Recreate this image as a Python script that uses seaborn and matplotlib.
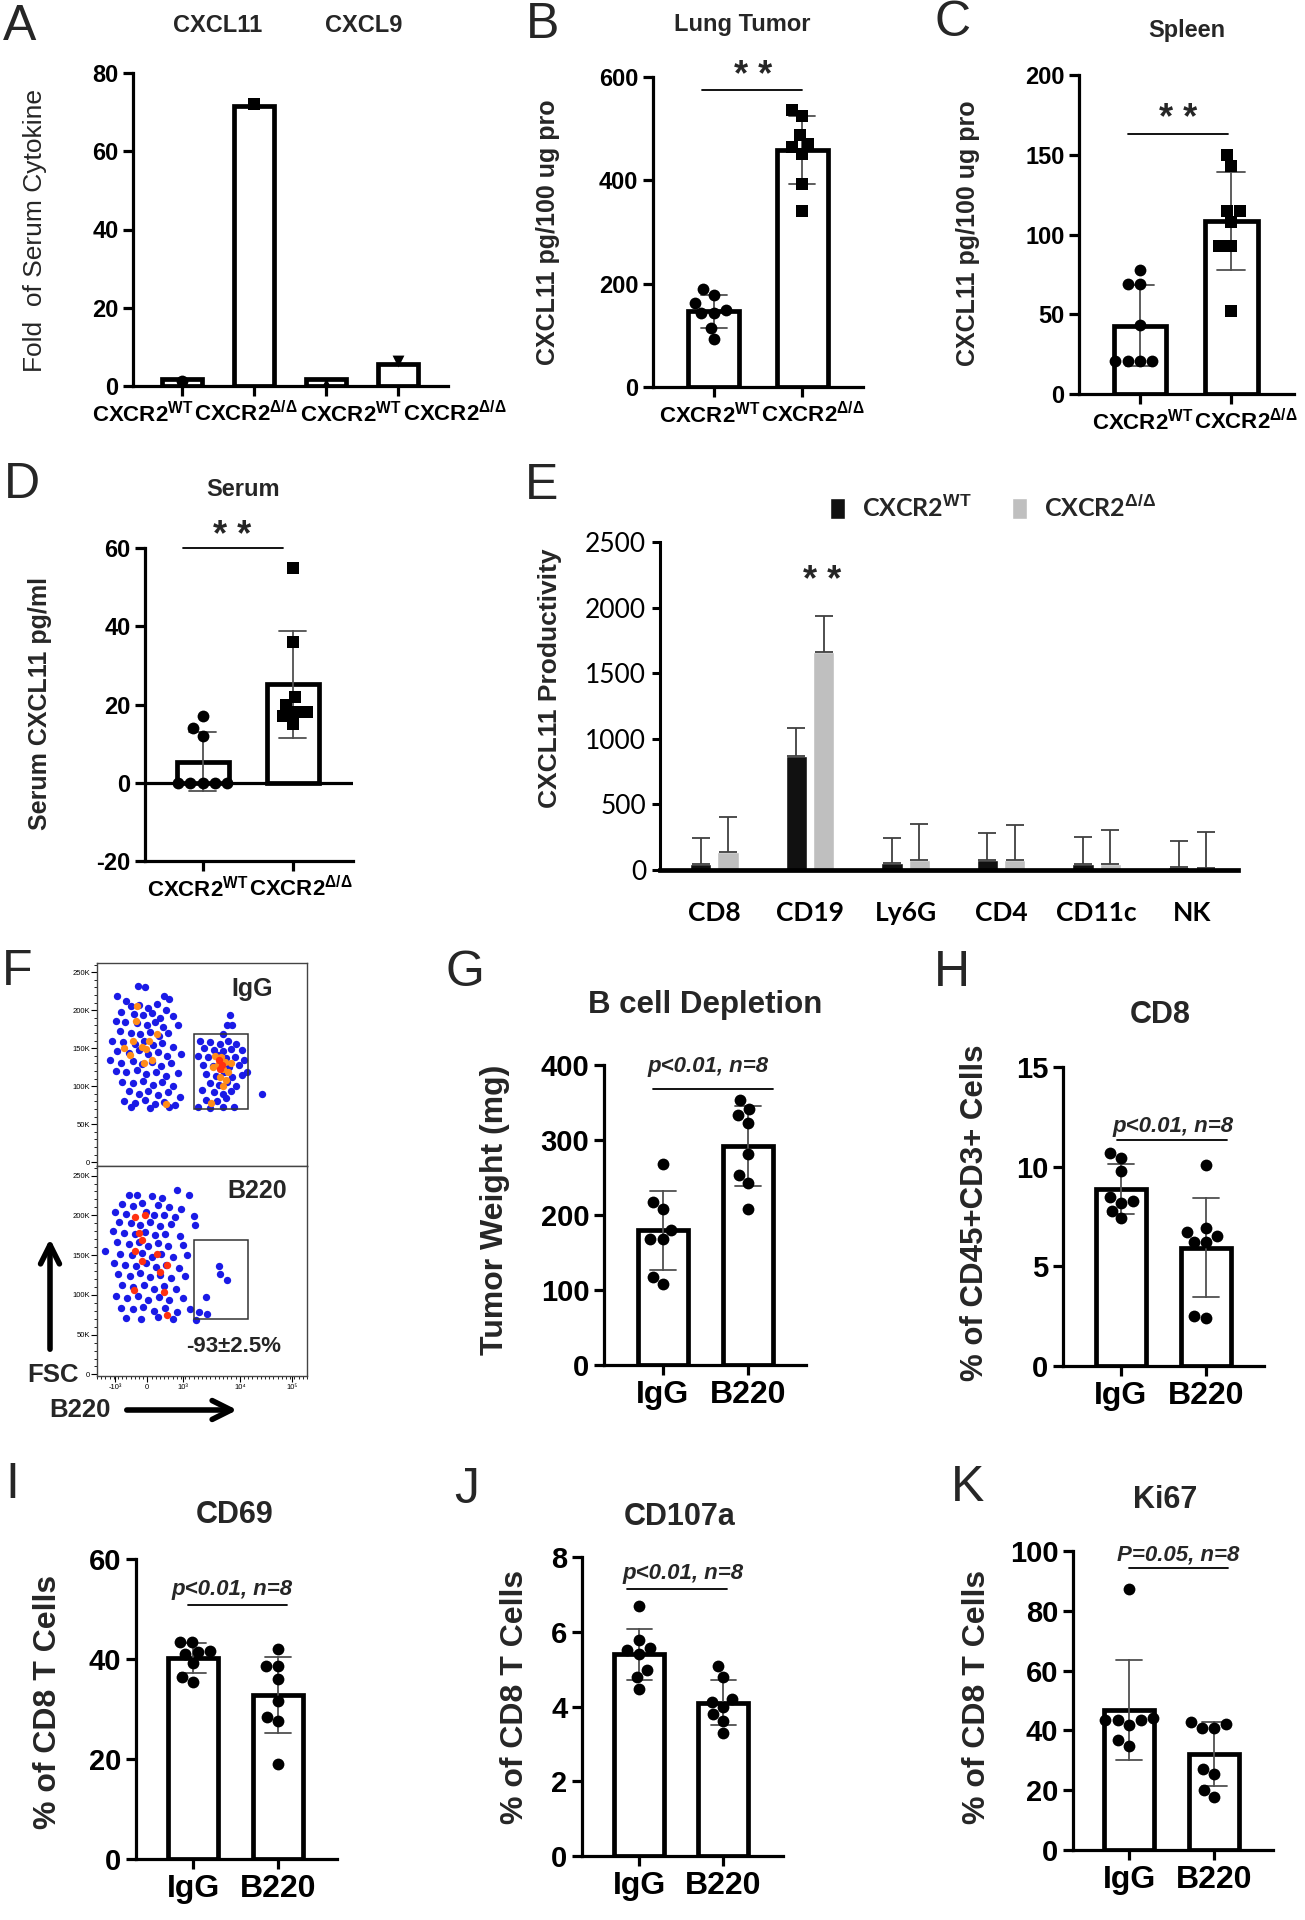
import matplotlib
matplotlib.use('Agg')
import matplotlib.pyplot as plt
from matplotlib.patches import Rectangle, FancyArrowPatch
from matplotlib.ticker import MultipleLocator
from matplotlib.transforms import ScaledTranslation
import numpy as np
import pandas as pd
import seaborn as sns

W, H = 1305, 1920

WT = r'CXCR2$^{\mathrm{WT}}$'
KO = r'CXCR2$^{\mathrm{Δ/Δ}}$'

# ---- panel A: fold of serum cytokine (n=1 per bar)
a_groups = ['CXCL11 WT', 'CXCL11 KO', 'CXCL9 WT', 'CXCL9 KO']
a_labels = [WT, KO, WT, KO]
a_bars = [1.7, 71.5, 1.7, 5.7]
a_points = [1.2, 72.0, 0.6, 6.4]
a_markers = ['o', 's', '^', 'v']

# ---- panels B-D: CXCL11 per mouse
b_wt = [190, 178, 150, 144, 144, 163, 114, 92]
b_ko = [537, 524, 488, 471, 465, 451, 393, 340]
c_wt = [78, 69, 69, 43, 21, 21, 21, 21]
c_ko = [150, 143, 115, 115, 108, 93, 93, 52]
d_wt = [17, 12, 14, 0, 0, 0, 0, 0]
d_ko = [55, 36, 20, 17, 18, 18, 22, 15]

# ---- panel E: CXCL11 productivity by cell type
e_cells = ['CD8', 'CD19', 'Ly6G', 'CD4', 'CD11c', 'NK']
e_wt = [43, 872, 51, 76, 43, 25]
e_ko = [140, 1661, 76, 76, 43, 13]
e_wt_err = [199, 209, 196, 209, 206, 199]
e_ko_err = [267, 272, 272, 267, 262, 279]

# ---- panel F: flow plots (x = B220 channel, y = FSC in K)
f_xtick_pos = [87, 238, 409, 683, 929]
f_xtick_lab = ['-10³', '0', '10³', '10⁴', '10⁵']
f_gate = (463, 69.5, 254, 99.5)
f_igg_blue = [(195, 232), (228, 231), (95, 219), (140, 212), (320, 218), (345, 215), (160, 205), (200, 207),
              (245, 203), (285, 208), (330, 200), (115, 197), (175, 195), (220, 193), (262, 196), (300, 190),
              (360, 192), (90, 186), (135, 184), (190, 183), (240, 181), (275, 184), (315, 178), (385, 180),
              (110, 172), (160, 170), (205, 168), (250, 171), (295, 166), (340, 170), (70, 160), (125, 158),
              (180, 155), (225, 159), (265, 154), (310, 157), (360, 152), (95, 146), (150, 144), (200, 147),
              (245, 142), (290, 145), (335, 140), (400, 142), (60, 135), (115, 131), (170, 133), (215, 129),
              (260, 132), (305, 127), (350, 130), (90, 120), (140, 118), (190, 121), (235, 116), (280, 119),
              (330, 114), (385, 117), (120, 106), (170, 104), (220, 107), (265, 102), (310, 105), (360, 100),
              (150, 93), (200, 90), (245, 94), (290, 88), (340, 92), (395, 86), (130, 80), (180, 78),
              (230, 82), (275, 76), (320, 79), (370, 75), (160, 72), (250, 71), (345, 73),
              (635, 194), (619, 180), (643, 180), (600, 168), (490, 160), (540, 158), (585, 156), (625, 160),
              (660, 155), (510, 150), (555, 148), (600, 146), (640, 149), (690, 147), (480, 140), (530, 138),
              (575, 141), (615, 137), (655, 139), (700, 135), (505, 128), (550, 126), (590, 130), (630, 125),
              (675, 128), (714, 118), (520, 116), (565, 114), (605, 118), (645, 112), (690, 115), (540, 104),
              (580, 102), (620, 106), (660, 100), (500, 95), (555, 92), (600, 90), (640, 94), (520, 82),
              (570, 80), (615, 84), (480, 72), (540, 71), (600, 72), (650, 73), (786, 90)]
f_igg_orange = [(190, 205), (187, 186), (286, 169), (246, 159), (127, 150), (214, 152), (159, 141), (262, 135),
                (222, 130), (330, 77), (232, 149), (170, 160), (560, 140), (590, 138), (610, 132), (575, 128),
                (600, 122), (625, 118), (585, 112), (615, 108), (550, 125), (640, 130), (600, 100), (545, 78)]
f_igg_red = [(579, 134), (587, 123), (596, 128)]
f_b220_blue = [(380, 232), (150, 226), (190, 225), (260, 224), (310, 222), (437, 225), (120, 214), (170, 212),
               (215, 216), (290, 213), (345, 210), (400, 208), (85, 204), (140, 202), (235, 204), (270, 200),
               (320, 201), (370, 198), (460, 199), (105, 192), (160, 190), (205, 188), (250, 192), (300, 187),
               (350, 189), (468, 188), (75, 180), (130, 178), (180, 176), (230, 179), (275, 175), (325, 177),
               (395, 174), (95, 166), (150, 164), (200, 167), (245, 162), (290, 165), (340, 161), (410, 163),
               (40, 155), (110, 152), (165, 150), (215, 153), (260, 148), (305, 151), (360, 147), (430, 150),
               (80, 140), (135, 138), (185, 136), (235, 140), (280, 135), (330, 138), (390, 134), (100, 126),
               (155, 124), (205, 127), (250, 122), (300, 125), (350, 121), (420, 124), (120, 112), (170, 110),
               (225, 113), (270, 108), (320, 111), (375, 107), (90, 98), (145, 96), (195, 99), (245, 94),
               (295, 97), (345, 93), (410, 96), (115, 84), (170, 82), (220, 85), (270, 80), (325, 83),
               (380, 79), (445, 82), (140, 71), (210, 70), (290, 72), (360, 70), (470, 68),
               (579, 136), (587, 126), (619, 119), (521, 97), (524, 76), (484, 79)]
f_b220_red = [(183, 198), (230, 200), (198, 178), (214, 169), (183, 155), (214, 142), (286, 151), (333, 138),
              (302, 129), (175, 106), (317, 104), (333, 75)]

# ---- panels G-K: B cell depletion
g_igg = [268, 218, 208, 180, 168, 168, 118, 108]
g_b220 = [342, 353, 333, 323, 282, 254, 243, 208]
h_igg = [10.7, 10.45, 9.8, 8.3, 8.5, 8.2, 7.8, 7.4]
h_b220 = [10.1, 6.9, 6.5, 6.7, 6.2, 6.2, 2.4, 2.5]
i_igg = [41.7, 43.5, 43.5, 41.4, 41.0, 39.2, 35.5, 36.5]
i_b220 = [42.0, 38.7, 38.7, 36.0, 31.6, 28.5, 27.7, 19.0]
j_igg = [6.68, 5.57, 5.78, 5.4, 5.5, 4.97, 4.79, 4.48]
j_b220 = [5.08, 4.79, 3.99, 4.11, 4.21, 3.79, 3.6, 3.28]
k_igg = [87.4, 43.4, 43.4, 43.4, 44.0, 41.8, 36.9, 34.9]
k_b220 = [42.0, 40.9, 40.9, 42.9, 27.1, 25.3, 17.8, 20.0]
pb_labels = ['IgG', 'B220']

sns.set_theme(style='ticks')
plt.rcParams['font.family'] = ['Liberation Sans', 'DejaVu Sans']
plt.rcParams['font.weight'] = 'bold'
plt.rcParams['mathtext.fontset'] = 'custom'
plt.rcParams['mathtext.rm'] = 'Liberation Sans:bold'
plt.rcParams['mathtext.it'] = 'Liberation Sans:bold:italic'
plt.rcParams['mathtext.bf'] = 'Liberation Sans:bold'
plt.rcParams['axes.unicode_minus'] = False
plt.rcParams['axes.linewidth'] = 2.3
plt.rcParams['axes.edgecolor'] = 'black'
plt.rcParams['xtick.color'] = 'black'
plt.rcParams['ytick.color'] = 'black'

fig = plt.figure(figsize=(W / 100, H / 100), dpi=100)


def px_axes(l, t, r, b):
    return fig.add_axes([l / W, 1 - b / H, (r - l) / W, (b - t) / H])


def ftext(x, y, s, **kw):
    fig.text(x / W, 1 - y / H, s, ha='center', va='center', **kw)


def shift_labels(ax, dxs):
    for lab, dx in zip(ax.get_xticklabels(), dxs):
        lab.set_transform(lab.get_transform() + ScaledTranslation(dx / 100, 0, fig.dpi_scale_trans))


def prism(ax, groups, samples, markers, xlabels, ylim, step, xlim, tick_fs, xlab_fs, width=0.58):
    df = pd.DataFrame({'group': [g for g, s in zip(groups, samples) for _ in s],
                       'value': [v for s in samples for v in s]})
    sns.barplot(data=df, x='group', y='value', order=groups, errorbar='sd', capsize=0.3, width=width,
                color='white', saturation=1, edgecolor='black', linewidth=3.4,
                err_kws={'color': '#505050', 'linewidth': 1.3}, ax=ax)
    for g, m in zip(groups, markers):
        sns.swarmplot(data=df[df.group == g], x='group', y='value', order=groups, marker=m,
                      color='black', size=8.5, zorder=4, ax=ax)
    style(ax, xlabels, ylim, step, xlim, tick_fs, xlab_fs)


def style(ax, xlabels, ylim, step, xlim, tick_fs, xlab_fs):
    ax.set_xlim(xlim)
    ax.set_ylim(ylim)
    ax.set_yticks(np.arange(ylim[0], ylim[1] + step / 2, step))
    ax.set_xticks(range(len(xlabels)))
    ax.set_xticklabels(xlabels)
    ax.set_xlabel('')
    ax.set_ylabel('')
    sns.despine(ax=ax)
    ax.tick_params(width=2.3, length=7.5, direction='out')
    ax.tick_params(axis='y', labelsize=tick_fs, pad=3)
    ax.tick_params(axis='x', labelsize=xlab_fs, pad=3)


def sig(ax, x0, x1, y, ty, tx, text, fs, **kw):
    ax.plot([x0, x1], [y, y], color='black', lw=1.3, clip_on=False)
    ax.text(tx, ty, text, ha='center', va='center', fontsize=fs, clip_on=False, **kw)


# ---------------- A
ax = px_axes(133, 73, 448, 386)
dfa = pd.DataFrame({'group': a_groups, 'bar': a_bars, 'point': a_points})
sns.barplot(data=dfa, x='group', y='bar', order=a_groups, errorbar=None, width=0.56, color='white',
            saturation=1, edgecolor='black', linewidth=3.4, ax=ax)
for g, m in zip(a_groups, a_markers):
    sns.stripplot(data=dfa[dfa.group == g], x='group', y='point', order=a_groups, marker=m, jitter=False,
                  color='black', size=8.5, zorder=4, ax=ax)
style(ax, a_labels, (0, 80), 20, (-0.68, 3.69), 17, 16)
shift_labels(ax, [-39, -8, 25, 57])
ftext(218, 25, 'CXCL11', fontsize=17)
ftext(364, 25, 'CXCL9', fontsize=17)
ftext(35, 230, 'Fold  of Serum Cytokine', rotation=90, fontsize=19, fontweight='normal')
ftext(20, 27, 'A', fontsize=36, fontweight='normal')

# ---------------- B
ax = px_axes(653, 77, 863, 387)
prism(ax, ['WT', 'KO'], [b_wt, b_ko], ['o', 's'], [WT, KO], (0, 600), 200, (-0.69, 1.69), 17, 16)
shift_labels(ax, [-4, 11])
sig(ax, -0.13, 1.0, 574, 600, 0.44, '* *', 26)
ftext(742, 25, 'Lung Tumor', fontsize=17)
ftext(548, 232, 'CXCL11 pg/100 ug pro', rotation=90, fontsize=18)
ftext(543, 25, 'B', fontsize=36, fontweight='normal')

# ---------------- C
ax = px_axes(1079, 75, 1294, 394)
prism(ax, ['WT', 'KO'], [c_wt, c_ko], ['o', 's'], [WT, KO], (0, 200), 50, (-0.67, 1.69), 17, 16)
shift_labels(ax, [3, 15])
sig(ax, -0.13, 0.97, 163, 172, 0.42, '* *', 26)
ftext(1187, 30, 'Spleen', fontsize=17)
ftext(968, 233, 'CXCL11 pg/100 ug pro', rotation=90, fontsize=18)
ftext(953, 23, 'C', fontsize=36, fontweight='normal')

# ---------------- D
ax = px_axes(145, 548, 353, 861)
prism(ax, ['WT', 'KO'], [d_wt, d_ko], ['o', 's'], [WT, KO], (-20, 60), 20, (-0.64, 1.67), 17, 16)
shift_labels(ax, [-5, 8])
ax.axhline(0, color='black', lw=2.3, zorder=3)
sig(ax, -0.22, 0.89, 60, 63, 0.33, '* *', 26)
ftext(243, 490, 'Serum', fontsize=17)
ftext(40, 703, 'Serum CXCL11 pg/ml', rotation=90, fontsize=18)
ftext(22, 485, 'D', fontsize=36, fontweight='normal')

# ---------------- E
ax = px_axes(660, 542, 1238, 870)
dfe = pd.DataFrame({'cell': e_cells * 2, 'genotype': [WT] * len(e_cells) + [KO] * len(e_cells),
                    'value': e_wt + e_ko})
sns.barplot(data=dfe, x='cell', y='value', hue='genotype', order=e_cells, hue_order=[WT, KO],
            palette=['#111111', '#bfbfbf'], saturation=1, width=0.57, gap=0.22, errorbar=None, ax=ax)
for cont, errs in zip(ax.containers, [e_wt_err, e_ko_err]):
    for bar, e in zip(cont, errs):
        ax.errorbar(bar.get_x() + bar.get_width() / 2, bar.get_height(), yerr=[[0], [e]], fmt='none',
                    ecolor='#404040', elinewidth=1.3, capsize=6.5, capthick=1.3, zorder=1)
ax.set_xlim(-0.57, 5.48)
ax.set_ylim(0, 2500)
ax.set_yticks(range(0, 2501, 500))
ax.set_xlabel('')
ax.set_ylabel('')
sns.despine(ax=ax)
ax.spines['left'].set_linewidth(2.2)
ax.spines['bottom'].set_linewidth(3.4)
ax.tick_params(axis='y', width=2.2, length=6, pad=4)
ax.tick_params(axis='x', length=0, pad=22)
for lab in ax.get_yticklabels():
    lab.set_fontfamily('Lato')
    lab.set_fontweight('normal')
    lab.set_fontsize(19)
for lab in ax.get_xticklabels():
    lab.set_fontfamily('Lato')
    lab.set_fontweight('bold')
    lab.set_fontsize(19)
sns.move_legend(ax, 'center', bbox_to_anchor=(0.576, 1.104), ncol=2, title=None, frameon=False,
                prop={'family': 'Lato', 'weight': 'bold', 'size': 18}, handlelength=0.6,
                handleheight=0.9, handletextpad=0.7, columnspacing=1.6)
ax.text(1.13, 2200, '* *', ha='center', va='center', fontsize=26)
ftext(550, 678, 'CXCL11 Productivity', rotation=90, fontsize=19)
ftext(542, 486, 'E', fontsize=36, fontweight='normal')

# ---------------- F
f_axes = [px_axes(97, 963, 307, 1166), px_axes(97, 1166, 307, 1376)]
f_layers = [[(f_igg_blue, '#1a1ae6'), (f_igg_orange, '#ff8c1a'), (f_igg_red, '#ff3010')],
            [(f_b220_blue, '#1a1ae6'), (f_b220_red, '#ff3010')]]
for i, (ax, layers) in enumerate(zip(f_axes, f_layers)):
    for pts, col in layers:
        sns.scatterplot(x=[p[0] for p in pts], y=[p[1] for p in pts], color=col, s=28, linewidth=0,
                        legend=False, ax=ax, zorder=3)
    ax.add_patch(Rectangle(f_gate[:2], f_gate[2], f_gate[3], fill=False, lw=1.1, ec='#333333', zorder=4))
    ax.set_xlim(0, 1000)
    ax.set_ylim(-5 if i == 0 else -2, 262)
    ax.set_yticks([0, 50, 100, 150, 200, 250])
    ax.set_yticklabels(['0', '50K', '100K', '150K', '200K', '250K'])
    ax.yaxis.set_minor_locator(MultipleLocator(10))
    for s in ax.spines.values():
        s.set_linewidth(1.0)
        s.set_color('#444444')
    ax.tick_params(axis='y', which='major', length=4, width=0.8, labelsize=5.5, pad=1)
    ax.tick_params(axis='y', which='minor', length=2, width=0.6)
    for lab in ax.get_yticklabels():
        lab.set_fontweight('normal')
f_axes[0].tick_params(axis='x', which='both', bottom=False, labelbottom=False)
axb = f_axes[1]
axb.set_xticks(f_xtick_pos)
axb.set_xticklabels(f_xtick_lab)
axb.xaxis.set_minor_locator(MultipleLocator(20))
axb.tick_params(axis='x', which='major', length=4, width=0.8, labelsize=5.5, pad=2)
axb.tick_params(axis='x', which='minor', length=2, width=0.6)
for lab in axb.get_xticklabels():
    lab.set_fontweight('normal')
f_axes[0].text(738, 228, 'IgG', ha='center', va='center', fontsize=18)
f_axes[1].text(762, 230, 'B220', ha='center', va='center', fontsize=18)
f_axes[1].text(651, 35, '-93±2.5%', ha='center', va='center', fontsize=16)
fig.add_artist(FancyArrowPatch((50 / W, 1 - 1352 / H), (50 / W, 1 - 1236 / H), transform=fig.transFigure,
                               arrowstyle='->', mutation_scale=34, lw=4, color='black'))
fig.add_artist(FancyArrowPatch((124 / W, 1 - 1410 / H), (240 / W, 1 - 1410 / H), transform=fig.transFigure,
                               arrowstyle='->', mutation_scale=34, lw=4, color='black'))
ftext(53, 1375, 'FSC', fontsize=18.5)
ftext(80, 1410, 'B220', fontsize=18.5)
ftext(17, 972, 'F', fontsize=36, fontweight='normal')

# ---------------- G-K
pb = [('G', (604, 1065, 806, 1365), g_igg, g_b220, (0, 400), 100, (-0.69, 1.68),
       (-0.12, 1.29, 368, 398, 0.53, 'p<0.01, n=8'), 'B cell Depletion', (705, 1005), 22.5,
       'Tumor Weight (mg)', (495, 1210), 23, (465, 973)),
      ('H', (1063, 1067, 1264, 1366), h_igg, h_b220, (0, 15), 5, (-0.68, 1.68),
       (-0.05, 1.25, 11.33, 12.0, 0.61, 'p<0.01, n=8'), 'CD8', (1160, 1015), 22,
       '% of CD45+CD3+ Cells', (975, 1213), 22.5, (952, 973)),
      ('I', (136, 1559, 337, 1859), i_igg, i_b220, (0, 60), 20, (-0.67, 1.69),
       (-0.06, 1.1, 50.9, 53.9, 0.46, 'p<0.01, n=8'), 'CD69', (235, 1515), 22,
       '% of CD8 T Cells', (48, 1702), 23, (12, 1485)),
      ('J', (582, 1557, 783, 1856), j_igg, j_b220, (0, 8), 2, (-0.68, 1.71),
       (-0.14, 1.05, 7.15, 7.55, 0.52, 'p<0.01, n=8'), 'CD107a', (680, 1517), 22,
       '% of CD8 T Cells', (515, 1697), 23, (467, 1490)),
      ('K', (1073, 1551, 1273, 1850), k_igg, k_b220, (0, 100), 20, (-0.66, 1.69),
       (0.0, 1.16, 94.4, 98.8, 0.58, 'P=0.05, n=8'), 'Ki67', (1165, 1500), 22,
       '% of CD8 T Cells', (977, 1697), 23, (968, 1488))]
for (letter, box, igg, b220, ylim, step, xlim, sg, title, tpos, tfs, ylab, ypos, yfs, lpos) in pb:
    ax = px_axes(*box)
    prism(ax, ['IgG', 'B220'], [igg, b220], ['o', 'o'], pb_labels, ylim, step, xlim, 21, 23, width=0.59)
    sig(ax, sg[0], sg[1], sg[2], sg[3], sg[4], sg[5], 16, fontstyle='italic')
    ftext(tpos[0], tpos[1], title, fontsize=tfs)
    ftext(ypos[0], ypos[1], ylab, rotation=90, fontsize=yfs)
    ftext(lpos[0], lpos[1], letter, fontsize=36, fontweight='normal')

fig.savefig('out.png', dpi=100, facecolor='white')
